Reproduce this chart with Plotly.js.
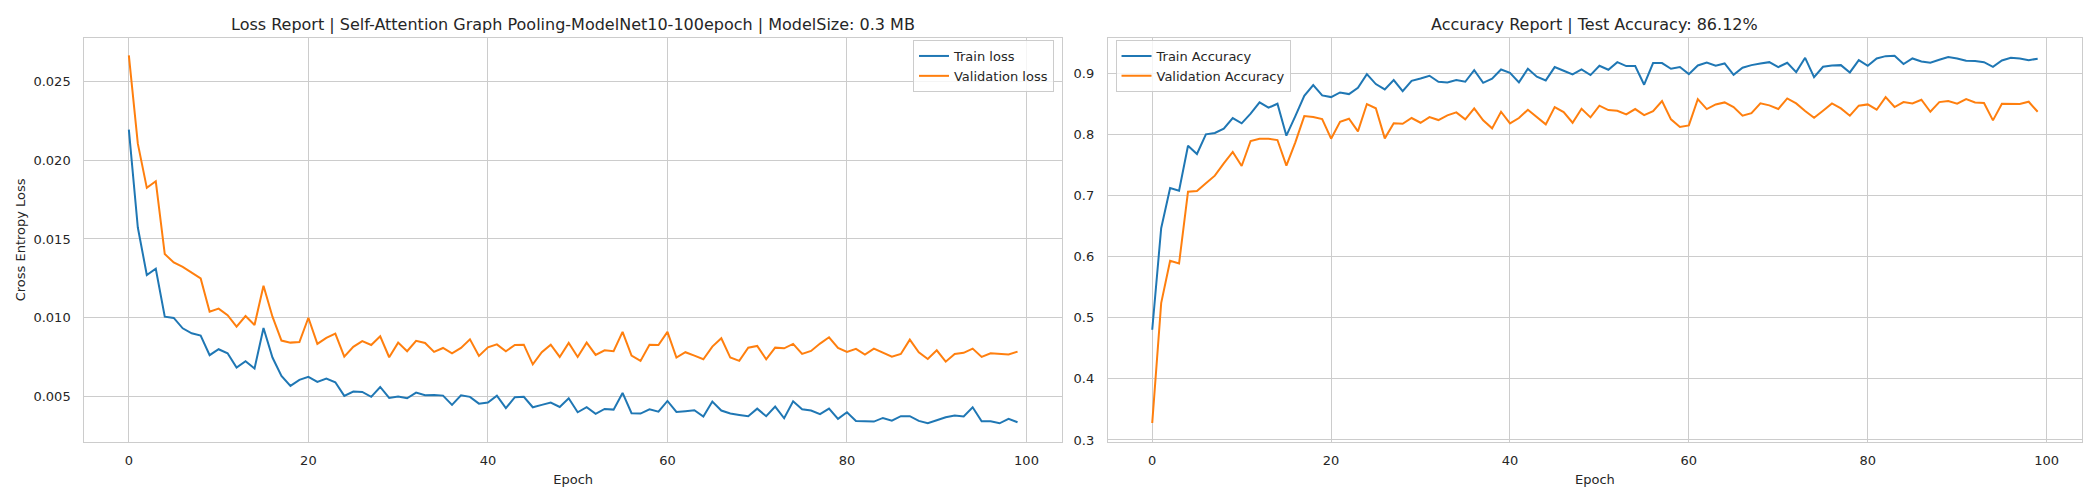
<!DOCTYPE html>
<html>
<head>
<meta charset="utf-8">
<script src="https://cdn.plot.ly/plotly-3.0.1.min.js"></script>
<style>
  html, body { margin: 0; padding: 0; background: #ffffff; }
  #reportPlot { width: 2100px; height: 500px; }
</style>
</head>
<body>
<div id="reportPlot"></div>
<script>
// epochs 0..99
let epochs = [];
for (let i = 0; i < 100; i++) epochs.push(i);

let train_loss = [
  0.02195, 0.01573, 0.01271, 0.01311, 0.01006, 0.00998, 0.00932, 0.00900, 0.00886, 0.00761,
  0.00799, 0.00773, 0.00682, 0.00723, 0.00676, 0.00934, 0.00746, 0.00629, 0.00566, 0.00604,
  0.00623, 0.00591, 0.00612, 0.00589, 0.00502, 0.00530, 0.00527, 0.00496, 0.00559, 0.00489,
  0.00498, 0.00487, 0.00523, 0.00506, 0.00508, 0.00504, 0.00445, 0.00506, 0.00496, 0.00453,
  0.00460, 0.00504, 0.00424, 0.00494, 0.00496, 0.00430, 0.00445, 0.00460, 0.00432, 0.00487,
  0.00398, 0.00430, 0.00388, 0.00419, 0.00415, 0.00521, 0.00392, 0.00390, 0.00417, 0.00402,
  0.00470, 0.00400, 0.00405, 0.00411, 0.00371, 0.00466, 0.00409, 0.00390, 0.00381, 0.00373,
  0.00421, 0.00373, 0.00434, 0.00360, 0.00468, 0.00417, 0.00409, 0.00386, 0.00421, 0.00356,
  0.00398, 0.00343, 0.00341, 0.00339, 0.00362, 0.00345, 0.00373, 0.00373, 0.00343, 0.00328,
  0.00347, 0.00366, 0.00377, 0.00371, 0.00430, 0.00341, 0.00341, 0.00328, 0.00356, 0.00335,
];

let val_loss = [
  0.02667, 0.02106, 0.01825, 0.01867, 0.01404, 0.01351, 0.01323, 0.01288, 0.01249, 0.01038,
  0.01057, 0.01015, 0.00943, 0.01010, 0.00953, 0.01203, 0.01006, 0.00854, 0.00841, 0.00845,
  0.00999, 0.00833, 0.00871, 0.00898, 0.00752, 0.00814, 0.00850, 0.00826, 0.00881, 0.00748,
  0.00841, 0.00786, 0.00852, 0.00839, 0.00782, 0.00807, 0.00773, 0.00807, 0.00862, 0.00756,
  0.00811, 0.00830, 0.00786, 0.00826, 0.00828, 0.00703, 0.00780, 0.00828, 0.00750, 0.00839,
  0.00750, 0.00841, 0.00763, 0.00792, 0.00786, 0.00909, 0.00758, 0.00725, 0.00828, 0.00826,
  0.00909, 0.00746, 0.00780, 0.00758, 0.00735, 0.00816, 0.00869, 0.00746, 0.00725, 0.00809,
  0.00820, 0.00735, 0.00809, 0.00805, 0.00833, 0.00769, 0.00788, 0.00835, 0.00875, 0.00807,
  0.00782, 0.00801, 0.00765, 0.00803, 0.00778, 0.00752, 0.00769, 0.00860, 0.00780, 0.00737,
  0.00792, 0.00720, 0.00769, 0.00776, 0.00803, 0.00750, 0.00773, 0.00767, 0.00765, 0.00784,
];

let train_acc = [
  0.4804, 0.6466, 0.7125, 0.7082, 0.7817, 0.7681, 0.8003, 0.8025, 0.8095, 0.8270,
  0.8183, 0.8341, 0.8526, 0.8439, 0.8504, 0.7981, 0.8302, 0.8635, 0.8809, 0.8640,
  0.8613, 0.8689, 0.8662, 0.8766, 0.8989, 0.8826, 0.8738, 0.8891, 0.8711, 0.8880,
  0.8918, 0.8962, 0.8864, 0.8853, 0.8891, 0.8864, 0.9054, 0.8847, 0.8913, 0.9065,
  0.9011, 0.8853, 0.9076, 0.8946, 0.8886, 0.9104, 0.9044, 0.8984, 0.9065, 0.8973,
  0.9125, 0.9060, 0.9185, 0.9120, 0.9120, 0.8815, 0.9169, 0.9169, 0.9076, 0.9104,
  0.8989, 0.9131, 0.9180, 0.9125, 0.9163, 0.8978, 0.9093, 0.9136, 0.9163, 0.9185,
  0.9104, 0.9174, 0.9022, 0.9256, 0.8940, 0.9109, 0.9131, 0.9136, 0.9016, 0.9218,
  0.9125, 0.9245, 0.9283, 0.9289, 0.9153, 0.9245, 0.9196, 0.9174, 0.9223, 0.9267,
  0.9245, 0.9207, 0.9202, 0.9185, 0.9109, 0.9213, 0.9256, 0.9245, 0.9218, 0.9240,
];

let val_acc = [
  0.3278, 0.5240, 0.5932, 0.5888, 0.7065, 0.7076, 0.7202, 0.7327, 0.7529, 0.7714,
  0.7485, 0.7894, 0.7932, 0.7932, 0.7910, 0.7490, 0.7872, 0.8302, 0.8286, 0.8253,
  0.7932, 0.8210, 0.8259, 0.8052, 0.8499, 0.8430, 0.7937, 0.8183, 0.8177, 0.8270,
  0.8193, 0.8286, 0.8237, 0.8313, 0.8362, 0.8248, 0.8428, 0.8232, 0.8101, 0.8373,
  0.8183, 0.8270, 0.8406, 0.8286, 0.8166, 0.8450, 0.8368, 0.8193, 0.8422, 0.8281,
  0.8472, 0.8401, 0.8390, 0.8330, 0.8417, 0.8319, 0.8384, 0.8548, 0.8248, 0.8123,
  0.8150, 0.8580, 0.8417, 0.8493, 0.8526, 0.8450, 0.8308, 0.8351, 0.8510, 0.8477,
  0.8417, 0.8591, 0.8510, 0.8384, 0.8275, 0.8390, 0.8510, 0.8428, 0.8308, 0.8472,
  0.8493, 0.8406, 0.8613, 0.8450, 0.8531, 0.8510, 0.8569, 0.8373, 0.8531, 0.8548,
  0.8504, 0.8580, 0.8526, 0.8515, 0.8232, 0.8504, 0.8499, 0.8499, 0.8537, 0.8373,
];

let loss_ticks = [0.005, 0.010, 0.015, 0.020, 0.025];
let acc_ticks = [0.3, 0.4, 0.5, 0.6, 0.7, 0.8, 0.9];
let epoch_ticks = [0, 20, 40, 60, 80, 100];

let lossTitle = "Loss Report | Self-Attention Graph Pooling-ModelNet10-100epoch | ModelSize: 0.3 MB";
let accTitle = "Accuracy Report | Test Accuracy: 86.12%";

var cb_reportPlot = function () {
  let blue = "#1f77b4";
  let orange = "#ff7f0e";
  let grid = "#cccccc";
  let txt = "#262626";
  let font = "DejaVu Sans";

  let trace1 = {
    x: epochs, y: train_loss, name: "Train loss",
    type: "scatter", mode: "lines",
    line: { color: blue, width: 2 },
    xaxis: "x", yaxis: "y", legend: "legend",
  };
  let trace2 = {
    x: epochs, y: val_loss, name: "Validation loss",
    type: "scatter", mode: "lines",
    line: { color: orange, width: 2 },
    xaxis: "x", yaxis: "y", legend: "legend",
  };
  let trace3 = {
    x: epochs, y: train_acc, name: "Train Accuracy",
    type: "scatter", mode: "lines",
    line: { color: blue, width: 2 },
    xaxis: "x2", yaxis: "y2", legend: "legend2",
  };
  let trace4 = {
    x: epochs, y: val_acc, name: "Validation Accuracy",
    type: "scatter", mode: "lines",
    line: { color: orange, width: 2 },
    xaxis: "x2", yaxis: "y2", legend: "legend2",
  };

  let data = [trace1, trace2, trace3, trace4];

  // shared axis look (seaborn whitegrid)
  let axisBase = {
    showgrid: true, gridcolor: grid, gridwidth: 1,
    zeroline: false,
    showline: true, mirror: true, linecolor: grid, linewidth: 1.3,
    ticks: "", ticklabelstandoff: 6,
    tickfont: { family: font, size: 13, color: txt },
  };

  let legendBase = {
    font: { family: font, size: 13, color: txt },
    bgcolor: "rgba(255,255,255,0.8)",
    bordercolor: grid, borderwidth: 1,
    yanchor: "top", y: 0.92,
  };

  let layout = {
    width: 2100, height: 500,
    margin: { l: 0, r: 0, b: 0, t: 0, pad: 0 },
    paper_bgcolor: "#ffffff",
    plot_bgcolor: "#ffffff",
    font: { family: font, color: txt },
    showlegend: true,

    xaxis: Object.assign({}, axisBase, {
      domain: [0.0402, 0.5057], anchor: "y",
      range: [-4.95, 103.95], tickvals: epoch_ticks,
      title: { text: "Epoch", font: { family: font, size: 13, color: txt }, standoff: 8 },
    }),
    yaxis: Object.assign({}, axisBase, {
      domain: [0.116, 0.9246], anchor: "x",
      range: [0.00209, 0.0278], tickvals: loss_ticks, tickformat: ".3f",
      ticklabelstandoff: 10,
      title: { text: "Cross Entropy Loss", font: { family: font, size: 13, color: txt }, standoff: 4 },
    }),
    xaxis2: Object.assign({}, axisBase, {
      domain: [0.5276, 0.9914], anchor: "y2",
      range: [-4.95, 103.95], tickvals: epoch_ticks,
      title: { text: "Epoch", font: { family: font, size: 13, color: txt }, standoff: 8 },
    }),
    yaxis2: Object.assign({}, axisBase, {
      domain: [0.116, 0.9246], anchor: "x2",
      range: [0.2967, 0.9585], tickvals: acc_ticks, tickformat: ".1f",
      ticklabelstandoff: 10,
    }),

    legend: Object.assign({}, legendBase, { x: 0.5019, xanchor: "right" }),
    legend2: Object.assign({}, legendBase, { x: 0.5312, xanchor: "left" }),

    // subplot titles
    annotations: [
      {
        text: lossTitle, xref: "paper", yref: "paper",
        x: (0.0402 + 0.5057) / 2, y: 0.952, xanchor: "center", yanchor: "middle",
        showarrow: false, font: { family: font, size: 16, color: txt },
      },
      {
        text: accTitle, xref: "paper", yref: "paper",
        x: (0.5276 + 0.9914) / 2, y: 0.952, xanchor: "center", yanchor: "middle",
        showarrow: false, font: { family: font, size: 16, color: txt },
      },
    ],
  };

  let config = {
    responsive: false,
    displayModeBar: false,
    displaylogo: false,
  };

  Plotly.newPlot("reportPlot", data, layout, config);
};

cb_reportPlot();
</script>
</body>
</html>
